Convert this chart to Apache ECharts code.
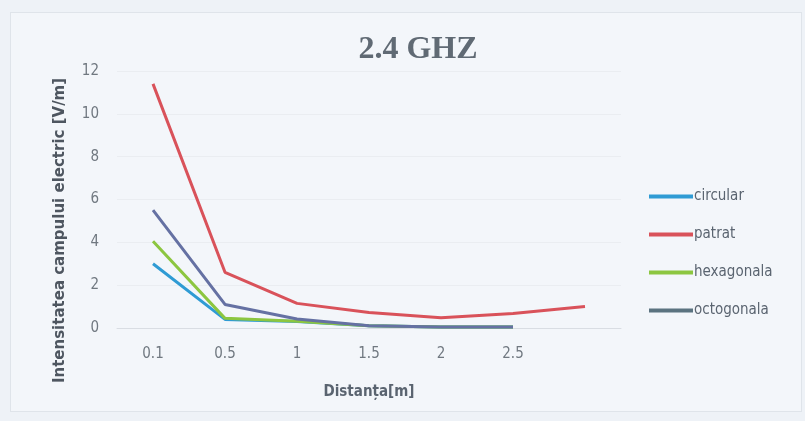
<!DOCTYPE html>
<html>
<head>
<meta charset="utf-8">
<script src="https://cdn.jsdelivr.net/npm/echarts@6/dist/echarts.min.js"></script>
<style>
  html, body { margin: 0; padding: 0; background: #eef2f7; }
  #chart { position: absolute; left: 10px; top: 12px; width: 790px; height: 398px;
           background: #f3f6fa; border: 1px solid #dfe4ea; }
</style>
</head>
<body>
<div id="chart"></div>
<script>
// distances (last category has no label)
const categories = ["0.1", "0.5", "1", "1.5", "2", "2.5", ""];
const circular   = [3.0, 0.4, 0.3, 0.1, 0.05, 0.05];
const patrat     = [11.4, 2.6, 1.15, 0.72, 0.48, 0.68, 1.0];
const hexagonala = [4.05, 0.45, 0.32, 0.1, 0.05, 0.05];
const octogonala = [5.5, 1.1, 0.42, 0.1, 0.05, 0.05];
const yTicks = [0, 2, 4, 6, 8, 10, 12];

const colors = {
  circular: "#2f9bd4",
  patrat: "#d9525a",
  hexagonala: "#8cc640",
  octogonala: "#6571a3",
};
const narrow = "DejaVu Sans Condensed, Liberation Sans Narrow, Liberation Sans";

const chart = echarts.init(document.getElementById("chart"));

function lineSerie(name, data) {
  return {
    name: name,
    type: "line",
    data: data,
    symbol: "none",
    lineStyle: { width: 3, color: colors[name] },
    itemStyle: { color: colors[name] },
  };
}

chart.setOption({
  animation: false,
  title: {
    text: "2.4 GHZ",
    left: 402,
    top: 16,
    textAlign: "center",
    textStyle: { fontFamily: "Liberation Serif", fontSize: 32, fontWeight: "bold", color: "#606a74" },
  },
  legend: {
    orient: "vertical",
    left: 633,
    top: 171,
    itemWidth: 44,
    itemHeight: 4,
    itemGap: 23,
    icon: "rect",
    textStyle: { fontFamily: narrow, fontSize: 15, color: "#5a6470", padding: [0, 0, 0, -4] },
    data: [
      { name: "circular", itemStyle: { color: colors.circular } },
      { name: "patrat", itemStyle: { color: colors.patrat } },
      { name: "hexagonala", itemStyle: { color: colors.hexagonala } },
      { name: "octogonala", itemStyle: { color: "#5b7380" } },
    ],
  },
  grid: { left: 106, right: 180, top: 58, bottom: 83 },
  xAxis: {
    type: "category",
    data: categories,
    boundaryGap: true,
    name: "Distanța[m]",
    nameLocation: "middle",
    nameGap: 57,
    nameTextStyle: { fontFamily: narrow, fontSize: 15, fontWeight: "bold", color: "#5a6470" },
    axisLine: { lineStyle: { color: "#d9dde3" } },
    axisTick: { show: false },
    axisLabel: { fontFamily: narrow, fontSize: 15, color: "#707880", margin: 19 },
  },
  yAxis: {
    type: "value",
    min: yTicks[0],
    max: yTicks[yTicks.length - 1],
    interval: 2,
    name: "Intensitatea campului electric [V/m]",
    nameLocation: "middle",
    nameGap: 49,
    nameTextStyle: { fontFamily: "DejaVu Sans", fontSize: 15, fontWeight: "bold", color: "#4e5660", padding: [0, 62, 0, 0] },
    axisLine: { show: false },
    axisTick: { show: false },
    splitLine: { lineStyle: { color: "#eaedf1" } },
    axisLabel: { fontFamily: narrow, fontSize: 15, color: "#707880", margin: 18 },
  },
  series: [
    lineSerie("circular", circular),
    lineSerie("patrat", patrat),
    lineSerie("hexagonala", hexagonala),
    lineSerie("octogonala", octogonala),
  ],
});
</script>
</body>
</html>
